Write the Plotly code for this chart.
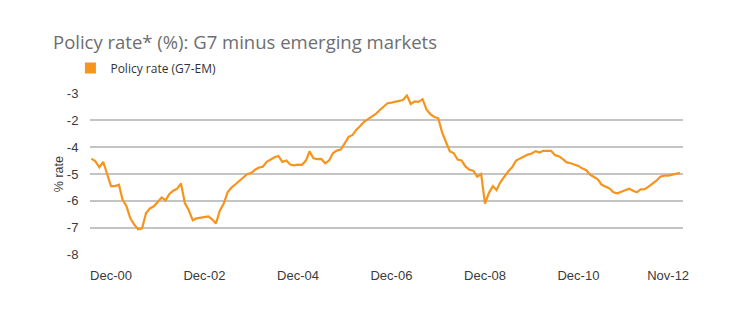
import plotly.graph_objects as go
import pandas as pd

# ---- data -------------------------------------------------------------
title_text = "Policy rate* (%): G7 minus emerging markets"
series_name = "Policy rate (G7-EM)"
y_title = "% rate"

start_month = "2000-07-01"   # monthly observations
policy_rate = [
    -4.43, -4.53, -4.75, -4.55, -5.00, -5.45, -5.45, -5.40, -5.95, -6.20,
    -6.65, -6.88, -7.05, -7.02, -6.45, -6.28, -6.20, -6.03, -5.87, -5.98,
    -5.75, -5.62, -5.55, -5.35, -6.08, -6.35, -6.72, -6.65, -6.63, -6.62,
    -6.58, -6.69, -6.84, -6.35, -6.10, -5.67, -5.50, -5.38, -5.26, -5.15,
    -5.00, -4.97, -4.84, -4.76, -4.73, -4.55, -4.45, -4.38, -4.33, -4.55,
    -4.50, -4.65, -4.68, -4.65, -4.66, -4.50, -4.16, -4.42, -4.45, -4.44,
    -4.60, -4.50, -4.22, -4.13, -4.09, -3.86, -3.62, -3.55, -3.36, -3.22,
    -3.06, -2.96, -2.87, -2.77, -2.62, -2.50, -2.37, -2.35, -2.31, -2.26,
    -2.25, -2.08, -2.40, -2.30, -2.32, -2.22, -2.60, -2.78, -2.88, -2.92,
    -3.45, -3.82, -4.15, -4.23, -4.46, -4.50, -4.72, -4.84, -4.88, -5.10,
    -5.00, -6.10, -5.70, -5.45, -5.60, -5.30, -5.10, -4.90, -4.75, -4.50,
    -4.42, -4.35, -4.28, -4.24, -4.15, -4.20, -4.14, -4.14, -4.14, -4.30,
    -4.34, -4.45, -4.57, -4.60, -4.64, -4.70, -4.80, -4.86, -5.02, -5.10,
    -5.20, -5.40, -5.46, -5.54, -5.68, -5.72, -5.66, -5.60, -5.55, -5.62,
    -5.68, -5.57, -5.56, -5.47, -5.37, -5.25, -5.10, -5.06, -5.06, -5.03,
    -4.99, -4.96,
]
dates = pd.date_range(start_month, periods=len(policy_rate), freq="MS")

x_tick_dates = ["2000-12-01", "2002-12-01", "2004-12-01", "2006-12-01",
                "2008-12-01", "2010-12-01", "2012-11-01"]
x_tick_labels = ["Dec-00", "Dec-02", "Dec-04", "Dec-06", "Dec-08", "Dec-10", "Nov-12"]
y_tick_vals = [-8, -7, -6, -5, -4, -3, -2]
y_tick_labels = ["-8", "-7", "-6", "-5", "-4", "-2", "-3"]  # as printed on the original

# ---- styles -----------------------------------------------------------
ORANGE = "#F7941D"
GRID = "#c4c4c4"
TICK_FONT = dict(family="Liberation Sans, Arial, sans-serif", size=13, color="#3a3a3a")

fig = go.Figure()
fig.add_trace(go.Scatter(
    x=dates, y=policy_rate, mode="lines",
    line=dict(color=ORANGE, width=2.2),
    showlegend=False, hoverinfo="x+y",
))
# legend entry (square swatch)
fig.add_trace(go.Scatter(
    x=[None], y=[None], mode="markers", name=series_name,
    marker=dict(symbol="square", size=11, color=ORANGE),
    showlegend=True,
))

fig.update_layout(
    width=740, height=325,
    margin=dict(l=90, r=57, t=93, b=70),
    paper_bgcolor="white", plot_bgcolor="white",
    title=dict(
        text=title_text, xref="container", yref="container",
        x=53 / 740, xanchor="left", y=1 - 43 / 325, yanchor="middle",
        font=dict(family="Open Sans, sans-serif", size=18.5, color="#6d6e71"),
    ),
    legend=dict(
        x=-0.033, y=1.155, xanchor="left", yanchor="middle",
        orientation="h", bgcolor="rgba(0,0,0,0)",
        font=dict(family="Open Sans, sans-serif", size=12, color="#333333"),
        itemwidth=30,
    ),
    xaxis=dict(
        type="date",
        range=["2000-06-20", "2013-02-25"],
        tickvals=x_tick_dates, ticktext=x_tick_labels,
        showgrid=False, zeroline=False, showline=False,
        ticks="outside", ticklen=8, tickcolor="rgba(0,0,0,0)",
        tickfont=TICK_FONT,
    ),
    yaxis=dict(
        range=[-8.01, -1.99],
        tickvals=y_tick_vals, ticktext=y_tick_labels,
        showgrid=True, gridcolor=GRID, gridwidth=1.6,
        zeroline=False, showline=False,
        ticks="outside", ticklen=8, tickcolor="rgba(0,0,0,0)",
        tickfont=TICK_FONT,
    ),
    annotations=[dict(
        text=y_title, xref="paper", yref="paper",
        x=-0.052, y=0.5, xanchor="center", yanchor="middle",
        textangle=-90, showarrow=False,
        font=dict(family="Liberation Sans, Arial, sans-serif", size=12.5, color="#3a3a3a"),
    )],
)

fig.write_html("out.html")
